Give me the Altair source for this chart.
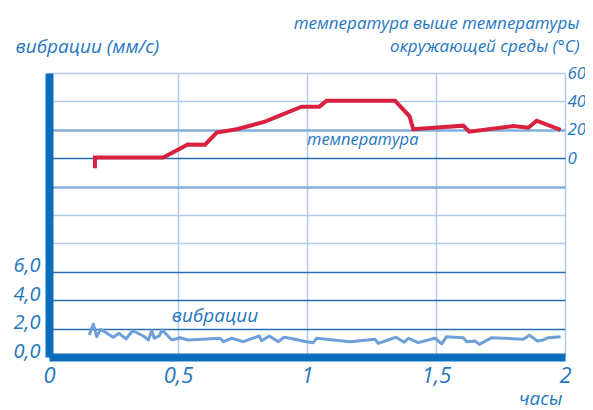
import altair as alt
import pandas as pd

# ---- data ----
temp_hours = [0.178, 0.178, 0.443, 0.538, 0.605, 0.650, 0.728, 0.837, 0.979, 1.048,
              1.076, 1.341, 1.397, 1.412, 1.606, 1.629, 1.800, 1.858, 1.890, 1.983]
temp_values = [-7.0, 0.5, 0.5, 9.6, 9.5, 18.0, 20.4, 25.7, 36.3, 36.3,
               40.5, 40.5, 29.7, 20.4, 22.9, 18.7, 22.7, 21.5, 26.4, 19.9]

vib_hours = [0.156, 0.172, 0.185, 0.200, 0.249, 0.272, 0.298, 0.324, 0.366, 0.385,
             0.398, 0.408, 0.427, 0.439, 0.476, 0.508, 0.540, 0.663, 0.676, 0.708,
             0.753, 0.815, 0.824, 0.854, 0.889, 0.911, 0.934, 0.999, 1.024, 1.038,
             1.167, 1.264, 1.276, 1.345, 1.377, 1.393, 1.431, 1.496, 1.522, 1.541,
             1.606, 1.619, 1.651, 1.668, 1.716, 1.838, 1.862, 1.893, 1.916, 1.935,
             1.983]
vib_values = [1.55, 2.32, 1.43, 1.95, 1.39, 1.67, 1.27, 1.85, 1.48, 1.20,
              1.85, 1.32, 1.48, 1.90, 1.20, 1.36, 1.20, 1.32, 1.08, 1.32,
              1.08, 1.48, 1.15, 1.48, 1.08, 1.39, 1.32, 1.08, 1.01, 1.32,
              1.08, 1.25, 0.96, 1.39, 1.04, 1.32, 1.01, 1.32, 0.92, 1.43,
              1.36, 1.08, 1.13, 0.89, 1.36, 1.25, 1.53, 1.13, 1.20, 1.36,
              1.43]

x_ticks = [0, 0.5, 1, 1.5, 2]
vib_grid = [0, 2, 4, 6, 8, 10, 12, 14, 16, 18, 20]
vib_label_max = 6
temp_ticks = [0, 20, 40, 60]

vib_title = "вибрации (мм/с)"
temp_title = ["температура выше температуры", "окружающей среды (°C)"]
x_title = "часы"
temp_label = {"h": 1.0, "t": 9.6, "text": "температура"}
vib_label = {"h": 0.476, "v": 2.5, "text": "вибрации"}

# ---- styles ----
FONT = "Open Sans"
TXT = "#1f77c0"
AXIS_BLUE = "#0a6ebd"
DARK = "#2a6db3"
MED = "#7fb0dd"
LIGHT = "#b3cbea"
RED = "#d9213f"
VIB = "#6f9fd8"

temp_df = pd.DataFrame({"h": temp_hours, "t": temp_values})
vib_df = pd.DataFrame({"h": vib_hours, "v": vib_values})

x_enc = alt.X("h:Q",
              scale=alt.Scale(domain=[0, 2], nice=False, zero=False),
              axis=alt.Axis(values=x_ticks, title=x_title, tickCount=10,
                            labelExpr="replace(format(datum.value, '~g'), '.', ',')",
                            labelFont=FONT, labelFontSize=22, labelFontStyle="italic",
                            labelColor=TXT, labelPadding=8, labelBaseline="top",
                            labelFlush=False,
                            ticks=False, domainColor=AXIS_BLUE, domainWidth=8,
                            grid=True, gridColor=LIGHT, gridWidth=1.5,
                            titleFont=FONT, titleFontSize=19, titleFontStyle="italic",
                            titleFontWeight="normal", titleColor=TXT,
                            titleAlign="right", titleBaseline="alphabetic",
                            titleAnchor=None, titleX=513, titleY=47))

vib_y = alt.Y("v:Q",
              scale=alt.Scale(domain=[0, 20], nice=False),
              axis=alt.Axis(orient="left", values=vib_grid, title=vib_title, tickCount=20,
                            labelExpr=f"datum.value <= {vib_label_max} ? replace(format(datum.value, '.1f'), '.', ',') : ''",
                            labelFont=FONT, labelFontSize=20, labelFontStyle="italic",
                            labelColor=TXT, labelPadding=9, labelBaseline="alphabetic",
                            labelAlign="right", labelFlush=False, labelOverlap=False,
                            ticks=False, domainColor=AXIS_BLUE, domainWidth=8,
                            grid=True,
                            gridColor={"condition": [
                                {"test": "indexof([2, 4, 6, 14], datum.value) >= 0", "value": DARK},
                                {"test": "indexof([12, 16], datum.value) >= 0", "value": MED}],
                                "value": LIGHT},
                            gridWidth={"condition": {"test": "indexof([12, 16], datum.value) >= 0", "value": 2.5},
                                       "value": 1.5},
                            titleFont=FONT, titleFontSize=19, titleFontStyle="italic",
                            titleFontWeight="normal", titleColor=TXT,
                            titleAngle=0, titleAlign="left", titleBaseline="alphabetic",
                            titleAnchor=None, titleX=-34, titleY=-21))

temp_y = alt.Y("t:Q",
               scale=alt.Scale(domain=[-140, 60], nice=False, zero=False),
               axis=alt.Axis(orient="right", values=temp_ticks, title=temp_title, tickCount=10,
                             labelFont=FONT, labelFontSize=17, labelFontStyle="italic",
                             labelColor=TXT, labelPadding=2, labelBaseline="middle",
                             labelAlign="left", labelFlush=False,
                             ticks=False, domain=False, grid=False,
                             titleFont=FONT, titleFontSize=17, titleFontStyle="italic",
                             titleFontWeight="normal", titleColor=TXT,
                             titleAngle=0, titleAlign="right", titleBaseline="alphabetic",
                             titleLineHeight=23,
                             titleAnchor=None, titleX=14, titleY=-45))

vib_line = alt.Chart(vib_df).mark_line(color=VIB, strokeWidth=3, strokeJoin="round").encode(x=x_enc, y=vib_y)
vib_text = alt.Chart(pd.DataFrame([vib_label])).mark_text(
    font=FONT, fontSize=19, fontStyle="italic", color=TXT, align="left", baseline="alphabetic"
).encode(x=alt.X("h:Q"), y=alt.Y("v:Q"), text="text:N")

temp_line = alt.Chart(temp_df).mark_line(color=RED, strokeWidth=4).encode(x=alt.X("h:Q"), y=temp_y)
temp_text = alt.Chart(pd.DataFrame([temp_label])).mark_text(
    font=FONT, fontSize=16.5, fontStyle="italic", color=TXT, align="left", baseline="alphabetic"
).encode(x=alt.X("h:Q"), y=alt.Y("t:Q"), text="text:N")

vib_layer = alt.layer(vib_line, vib_text)
temp_layer = alt.layer(temp_line, temp_text)

chart = alt.layer(vib_layer, temp_layer).resolve_scale(y="independent").properties(
    width=516, height=284,
    autosize=alt.AutoSizeParams(type="none"),
    padding={"left": 41, "top": 65, "right": 20, "bottom": 53},
).configure_view(stroke=None)

chart.save("out.html", embed_options={"renderer": "svg", "actions": False})
